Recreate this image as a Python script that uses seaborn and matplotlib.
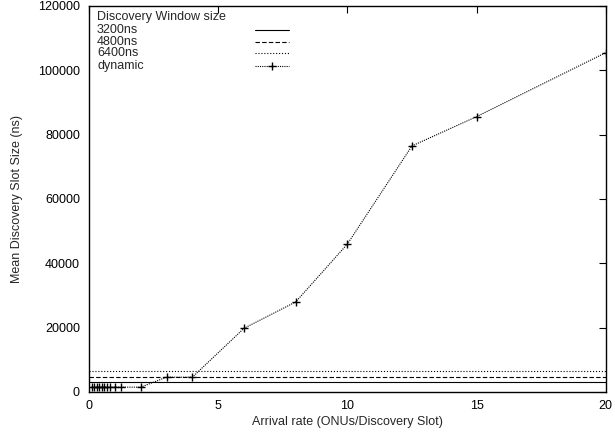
import matplotlib
matplotlib.use("Agg")
import matplotlib.pyplot as plt
import seaborn as sns
import pandas as pd
from matplotlib.lines import Line2D

sns.set_theme(style="white")
plt.rcParams['font.family'] = ['Liberation Sans', 'DejaVu Sans']

arrival_rate = [0.1, 0.2, 0.3, 0.4, 0.5, 0.6, 0.7, 0.8, 1.0, 1.25, 2.0, 3.0, 4.0, 6.0, 8.0, 10.0, 12.5, 15.0, 20.0]
dynamic_slot = [1500, 1500, 1500, 1500, 1500, 1500, 1500, 1500, 1500, 1500, 1500, 4600, 4600, 19800, 28000, 46000, 76500, 85600, 105500]
fixed_labels = ["3200ns", "4800ns", "6400ns"]
fixed_values = [3200, 4800, 6400]
fixed_styles = ["-", "--", ":"]
legend_title = "Discovery Window size"

fig = plt.figure(figsize=(6.15, 4.34), dpi=100)
ax = fig.add_axes([0.1447, 0.0968, 0.8403, 0.8894])

df = pd.DataFrame({"x": arrival_rate, "y": dynamic_slot})
for v, ls in zip(fixed_values, fixed_styles):
    ax.axhline(v, color="black", lw=0.8, ls=ls if ls != "--" else (0, (4, 2)))
sns.lineplot(data=df, x="x", y="y", ax=ax, color="black", lw=0.8, ls=(0, (1, 1)),
             marker="+", markersize=6, markeredgewidth=1.0, markeredgecolor="black")

fs = 9
ax.set_xlim(0, 20)
ax.set_ylim(0, 120000)
ax.set_xticks([0, 5, 10, 15, 20])
ax.set_yticks(range(0, 120001, 20000))
ax.tick_params(direction="in", top=True, right=True, length=5, width=0.8, labelsize=fs, colors="black")
ax.tick_params(axis="x", pad=6)
ax.tick_params(axis="y", pad=6.5)
for s in ax.spines.values():
    s.set_color("black")
    s.set_linewidth(1.0)
ax.set_xlabel("Arrival rate (ONUs/Discovery Slot)", fontsize=fs, labelpad=3)
ax.set_ylabel("Mean Discovery Slot Size (ns)", fontsize=fs, labelpad=11)

# gnuplot-style legend: labels left, samples right
tx = 0.0155
ys = [0.9715, 0.939, 0.908, 0.877, 0.845]
ax.text(tx, ys[0], legend_title, transform=ax.transAxes, fontsize=fs, va="center", ha="left")
labels = fixed_labels + ["dynamic"]
styles = ["-", (0, (4, 2)), ":", (0, (1, 1))]
for i, (lab, st) in enumerate(zip(labels, styles)):
    y = ys[i + 1]
    ax.text(tx, y, lab, transform=ax.transAxes, fontsize=fs, va="center", ha="left")
    ax.add_line(Line2D([0.321, 0.387], [y, y], transform=ax.transAxes, color="black", lw=0.8, ls=st))
ax.add_line(Line2D([0.354], [ys[4]], transform=ax.transAxes, color="black", marker="+",
                   markersize=6, markeredgewidth=1.0, ls="none"))

fig.savefig("out.png", dpi=100)
